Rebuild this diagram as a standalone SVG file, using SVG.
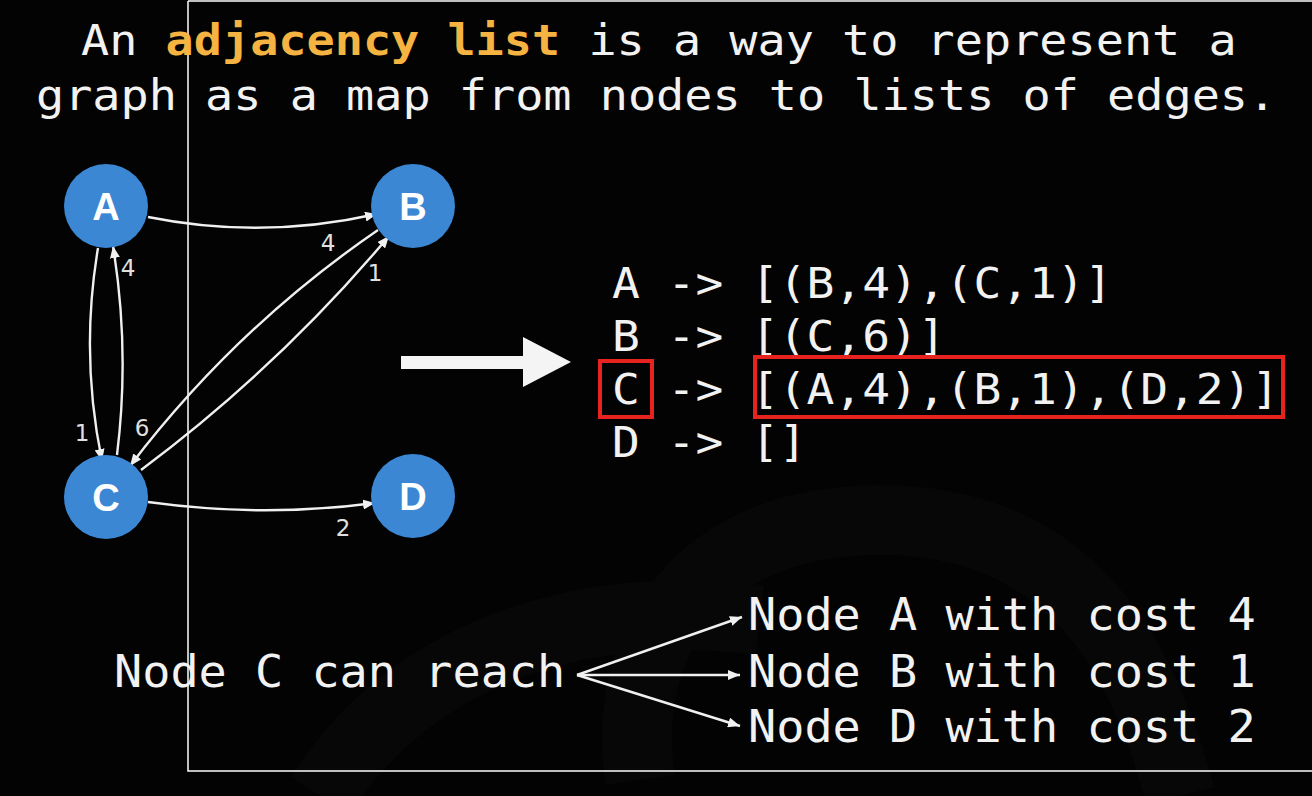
<svg xmlns="http://www.w3.org/2000/svg" width="1312" height="796" viewBox="0 0 1312 796">
  <defs>
    <style>
      .mono { font-family: "DejaVu Sans Mono", "Liberation Mono", monospace; fill: #f2f2f2; }
      .hl { fill: #f5b342; font-weight: bold; }
      .node circle { fill: #3b87d4; }
      .node text { font-family: "Liberation Sans", Arial, sans-serif; font-weight: bold; font-size: 38px; fill: #ffffff; text-anchor: middle; }
      .edge { fill: none; stroke: #f0f0f0; stroke-width: 2.4; marker-end: url(#arr); }
      .w { font-family: "DejaVu Sans", "Liberation Sans", sans-serif; font-size: 23px; fill: #e0e0e0; text-anchor: middle; }
      .redbox { fill: none; stroke: #e8231f; stroke-width: 4; }
    </style>
    <marker id="arr" viewBox="0 0 12 10" refX="12" refY="5" markerWidth="12" markerHeight="10" markerUnits="userSpaceOnUse" orient="auto">
      <path d="M0,0 L12,5 L0,10 z" fill="#f0f0f0"/>
    </marker>
  </defs>

  <rect x="0" y="0" width="1312" height="796" fill="#030303"/>

  <!-- faint background swirls -->
  <g id="background" fill="none" stroke="#070707" stroke-width="70">
    <path d="M640,780 C620,640 700,520 880,520 C1060,520 1140,640 1180,796"/>
    <path d="M320,796 C420,640 600,600 760,620"/>
  </g>

  <!-- frame lines -->
  <g id="frame" fill="none" stroke="#ffffff" stroke-width="1.5">
    <path d="M188,1 L1312,1 M188,1 L188,771 L1312,771"/>
  </g>

  <!-- title -->
  <g id="title">
    <text class="mono" font-size="42" transform="translate(81,55) scale(1.115,1)">An <tspan class="hl">adjacency list</tspan> is a way to represent a</text>
    <text class="mono" font-size="42" transform="translate(36,110) scale(1.115,1)">graph as a map from nodes to lists of edges.</text>
  </g>

  <!-- connectors -->
  <g id="connectors">
    <path id="e-A-B" class="edge" d="M148,217 Q262,240 377,214"/>
    <path id="e-A-C" class="edge" d="M98,248 Q80,355 102,461"/>
    <path id="e-C-A" class="edge" d="M117,455 Q130,350 113,246"/>
    <path id="e-B-C" class="edge" d="M378,230 Q235,328 130,466"/>
    <path id="e-C-B" class="edge" d="M141,470 Q278,368 389,236"/>
    <path id="e-C-D" class="edge" d="M148,502 Q262,518 375,503"/>
    <text class="w" x="328" y="251">4</text>
    <text class="w" x="375" y="281">1</text>
    <text class="w" x="128" y="276">4</text>
    <text class="w" x="82" y="441">1</text>
    <text class="w" x="142" y="436">6</text>
    <text class="w" x="343" y="536">2</text>
  </g>

  <!-- nodes -->
  <g id="node-A" class="node"><circle cx="106" cy="206" r="42"/><text x="106" y="220">A</text></g>
  <g id="node-B" class="node"><circle cx="413" cy="206" r="42"/><text x="413" y="220">B</text></g>
  <g id="node-C" class="node"><circle cx="106" cy="497" r="42"/><text x="106" y="511">C</text></g>
  <g id="node-D" class="node"><circle cx="413" cy="496" r="42"/><text x="413" y="510">D</text></g>

  <!-- big arrow -->
  <g id="big-arrow">
    <path d="M401,356 L523,356 L523,337 L571,362 L523,387 L523,369 L401,369 z" fill="#f4f4f4"/>
  </g>

  <!-- adjacency list -->
  <g id="adjacency-list">
    <text class="mono" font-size="42" transform="translate(612,298) scale(1.1,1)">A -&gt; [(B,4),(C,1)]</text>
    <text class="mono" font-size="42" transform="translate(612,351) scale(1.1,1)">B -&gt; [(C,6)]</text>
    <text class="mono" font-size="42" transform="translate(612,404) scale(1.1,1)">C -&gt; [(A,4),(B,1),(D,2)]</text>
    <text class="mono" font-size="42" transform="translate(612,457) scale(1.1,1)">D -&gt; []</text>
    <rect class="redbox" x="600" y="361" width="52" height="56"/>
    <rect class="redbox" x="755" y="357" width="528" height="60"/>
  </g>

  <!-- reach summary -->
  <g id="reach">
    <text class="mono" font-size="44" transform="translate(114,687) scale(1.065,1)">Node C can reach</text>
    <path class="edge" d="M577,675 L742,617"/>
    <path class="edge" d="M577,675 L740,675"/>
    <path class="edge" d="M577,675 L740,726"/>
    <text class="mono" font-size="44" transform="translate(748,630) scale(1.065,1)">Node A with cost 4</text>
    <text class="mono" font-size="44" transform="translate(748,687) scale(1.065,1)">Node B with cost 1</text>
    <text class="mono" font-size="44" transform="translate(748,742) scale(1.065,1)">Node D with cost 2</text>
  </g>
</svg>
